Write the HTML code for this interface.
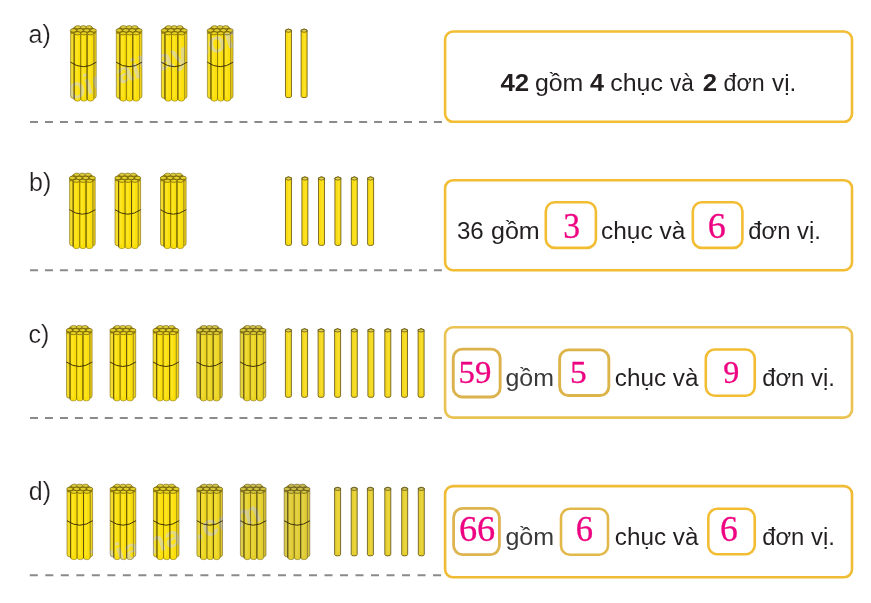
<!DOCTYPE html>
<html><head><meta charset="utf-8"><style>
html,body{margin:0;padding:0;background:#fff;width:871px;height:603px;overflow:hidden}
svg{display:block}
</style></head><body>
<svg width="871" height="603" viewBox="0 0 871 603">
<text x="28.6" y="43.2" style="font-family:'Liberation Sans',sans-serif;font-size:25px;font-weight:normal" fill="#231F20" stroke="#fff" stroke-width="0.2">a)</text>
<text x="29.0" y="190.8" style="font-family:'Liberation Sans',sans-serif;font-size:25px;font-weight:normal" fill="#231F20" stroke="#fff" stroke-width="0.2">b)</text>
<text x="28.6" y="342.5" style="font-family:'Liberation Sans',sans-serif;font-size:25px;font-weight:normal" fill="#231F20" stroke="#fff" stroke-width="0.2">c)</text>
<text x="28.8" y="500.3" style="font-family:'Liberation Sans',sans-serif;font-size:25px;font-weight:normal" fill="#231F20" stroke="#fff" stroke-width="0.2">d)</text>
<line x1="30" y1="122.0" x2="442" y2="122.0" stroke="#8A8A8A" stroke-width="2" stroke-dasharray="8 6.96"/>
<line x1="30" y1="270.3" x2="442" y2="270.3" stroke="#8A8A8A" stroke-width="2" stroke-dasharray="8 6.96"/>
<line x1="30" y1="418.0" x2="442" y2="418.0" stroke="#8A8A8A" stroke-width="2" stroke-dasharray="8 6.96"/>
<line x1="29.8" y1="575.3" x2="442" y2="575.3" stroke="#8A8A8A" stroke-width="2" stroke-dasharray="8 7.51"/>
<g transform="translate(70.2,25.2)">
<path d="M0.4 6 L0.4 70.5 Q0.4 73 2.4 73 L4.0 73 L4.0 6 Z" fill="#F3DC2A" stroke="#7A6A10" stroke-width="0.6"/>
<path d="M23.6 6 L23.6 73 L24.4 73 Q26.0 73 26.0 70.5 L26.0 6 Z" fill="#F0D21A" stroke="#7A6A10" stroke-width="0.6"/>
<path d="M4.0 7.5 L4.0 73.5 Q4.0 76 7.25 76 Q10.5 76 10.5 73.5 L10.5 7.5 Z" fill="#FADF0A" stroke="#7A6A10" stroke-width="0.5"/>
<rect x="5.3" y="10" width="2.4" height="62" fill="#FFEA30" opacity="0.6"/>
<path d="M10.5 7.5 L10.5 73.5 Q10.5 76 13.7 76 Q16.9 76 16.9 73.5 L16.9 7.5 Z" fill="#FADF0A" stroke="#7A6A10" stroke-width="0.5"/>
<rect x="11.8" y="10" width="2.4" height="62" fill="#FFEA30" opacity="0.6"/>
<path d="M16.9 7.5 L16.9 73.5 Q16.9 76 20.25 76 Q23.6 76 23.6 73.5 L23.6 7.5 Z" fill="#FADF0A" stroke="#7A6A10" stroke-width="0.5"/>
<rect x="18.2" y="10" width="2.4" height="62" fill="#FFEA30" opacity="0.6"/>
<line x1="4.0" y1="8" x2="4.0" y2="74.5" stroke="#4F3F00" stroke-width="0.8"/>
<line x1="10.5" y1="8" x2="10.5" y2="74.5" stroke="#9A8200" stroke-width="0.85"/>
<line x1="16.9" y1="8" x2="16.9" y2="74.5" stroke="#4F3F00" stroke-width="0.8"/>
<line x1="23.6" y1="8" x2="23.6" y2="74.5" stroke="#B09C20" stroke-width="0.8"/>
<path d="M4.5 1.2 L21.5 1.2 L25.6 5.0 L25.6 8.5 L0.4 8.5 L0.4 5.0 Z" fill="#958010"/>
<ellipse cx="7.6" cy="2.0" rx="3.0" ry="1.6" fill="#DCCB3A" stroke="#6A5A10" stroke-width="0.55"/>
<ellipse cx="13.2" cy="2.0" rx="3.0" ry="1.6" fill="#DCCB3A" stroke="#6A5A10" stroke-width="0.55"/>
<ellipse cx="18.8" cy="2.0" rx="3.0" ry="1.6" fill="#DCCB3A" stroke="#6A5A10" stroke-width="0.55"/>
<ellipse cx="3.3" cy="5.2" rx="3.1" ry="1.75" fill="#E2CE2A" stroke="#5A4A00" stroke-width="0.6"/>
<ellipse cx="9.9" cy="5.2" rx="3.1" ry="1.75" fill="#E2CE2A" stroke="#5A4A00" stroke-width="0.6"/>
<ellipse cx="16.5" cy="5.2" rx="3.1" ry="1.75" fill="#E2CE2A" stroke="#5A4A00" stroke-width="0.6"/>
<ellipse cx="23.1" cy="5.2" rx="3.1" ry="1.75" fill="#E2CE2A" stroke="#5A4A00" stroke-width="0.6"/>
<ellipse cx="7.25" cy="8.1" rx="3.2" ry="1.6" fill="#E8D222" stroke="#5A4A00" stroke-width="0.6"/>
<ellipse cx="13.7" cy="8.1" rx="3.2" ry="1.6" fill="#E8D222" stroke="#5A4A00" stroke-width="0.6"/>
<ellipse cx="20.25" cy="8.1" rx="3.2" ry="1.6" fill="#E8D222" stroke="#5A4A00" stroke-width="0.6"/>
<path d="M0.3 37.0 Q13.2 46.0 26.099999999999998 37.0" fill="none" stroke="#3A2C00" stroke-width="0.95"/>
</g>
<g transform="translate(115.9,25.2)">
<path d="M0.4 6 L0.4 70.5 Q0.4 73 2.4 73 L4.0 73 L4.0 6 Z" fill="#F3DC2A" stroke="#7A6A10" stroke-width="0.6"/>
<path d="M23.6 6 L23.6 73 L24.4 73 Q26.0 73 26.0 70.5 L26.0 6 Z" fill="#F0D21A" stroke="#7A6A10" stroke-width="0.6"/>
<path d="M4.0 7.5 L4.0 73.5 Q4.0 76 7.25 76 Q10.5 76 10.5 73.5 L10.5 7.5 Z" fill="#FADF0A" stroke="#7A6A10" stroke-width="0.5"/>
<rect x="5.3" y="10" width="2.4" height="62" fill="#FFEA30" opacity="0.6"/>
<path d="M10.5 7.5 L10.5 73.5 Q10.5 76 13.7 76 Q16.9 76 16.9 73.5 L16.9 7.5 Z" fill="#FADF0A" stroke="#7A6A10" stroke-width="0.5"/>
<rect x="11.8" y="10" width="2.4" height="62" fill="#FFEA30" opacity="0.6"/>
<path d="M16.9 7.5 L16.9 73.5 Q16.9 76 20.25 76 Q23.6 76 23.6 73.5 L23.6 7.5 Z" fill="#FADF0A" stroke="#7A6A10" stroke-width="0.5"/>
<rect x="18.2" y="10" width="2.4" height="62" fill="#FFEA30" opacity="0.6"/>
<line x1="4.0" y1="8" x2="4.0" y2="74.5" stroke="#4F3F00" stroke-width="0.8"/>
<line x1="10.5" y1="8" x2="10.5" y2="74.5" stroke="#9A8200" stroke-width="0.85"/>
<line x1="16.9" y1="8" x2="16.9" y2="74.5" stroke="#4F3F00" stroke-width="0.8"/>
<line x1="23.6" y1="8" x2="23.6" y2="74.5" stroke="#B09C20" stroke-width="0.8"/>
<path d="M4.5 1.2 L21.5 1.2 L25.6 5.0 L25.6 8.5 L0.4 8.5 L0.4 5.0 Z" fill="#958010"/>
<ellipse cx="7.6" cy="2.0" rx="3.0" ry="1.6" fill="#DCCB3A" stroke="#6A5A10" stroke-width="0.55"/>
<ellipse cx="13.2" cy="2.0" rx="3.0" ry="1.6" fill="#DCCB3A" stroke="#6A5A10" stroke-width="0.55"/>
<ellipse cx="18.8" cy="2.0" rx="3.0" ry="1.6" fill="#DCCB3A" stroke="#6A5A10" stroke-width="0.55"/>
<ellipse cx="3.3" cy="5.2" rx="3.1" ry="1.75" fill="#E2CE2A" stroke="#5A4A00" stroke-width="0.6"/>
<ellipse cx="9.9" cy="5.2" rx="3.1" ry="1.75" fill="#E2CE2A" stroke="#5A4A00" stroke-width="0.6"/>
<ellipse cx="16.5" cy="5.2" rx="3.1" ry="1.75" fill="#E2CE2A" stroke="#5A4A00" stroke-width="0.6"/>
<ellipse cx="23.1" cy="5.2" rx="3.1" ry="1.75" fill="#E2CE2A" stroke="#5A4A00" stroke-width="0.6"/>
<ellipse cx="7.25" cy="8.1" rx="3.2" ry="1.6" fill="#E8D222" stroke="#5A4A00" stroke-width="0.6"/>
<ellipse cx="13.7" cy="8.1" rx="3.2" ry="1.6" fill="#E8D222" stroke="#5A4A00" stroke-width="0.6"/>
<ellipse cx="20.25" cy="8.1" rx="3.2" ry="1.6" fill="#E8D222" stroke="#5A4A00" stroke-width="0.6"/>
<path d="M0.3 37.0 Q13.2 46.0 26.099999999999998 37.0" fill="none" stroke="#3A2C00" stroke-width="0.95"/>
</g>
<g transform="translate(161.0,25.2)">
<path d="M0.4 6 L0.4 70.5 Q0.4 73 2.4 73 L4.0 73 L4.0 6 Z" fill="#F3DC2A" stroke="#7A6A10" stroke-width="0.6"/>
<path d="M23.6 6 L23.6 73 L24.4 73 Q26.0 73 26.0 70.5 L26.0 6 Z" fill="#F0D21A" stroke="#7A6A10" stroke-width="0.6"/>
<path d="M4.0 7.5 L4.0 73.5 Q4.0 76 7.25 76 Q10.5 76 10.5 73.5 L10.5 7.5 Z" fill="#FADF0A" stroke="#7A6A10" stroke-width="0.5"/>
<rect x="5.3" y="10" width="2.4" height="62" fill="#FFEA30" opacity="0.6"/>
<path d="M10.5 7.5 L10.5 73.5 Q10.5 76 13.7 76 Q16.9 76 16.9 73.5 L16.9 7.5 Z" fill="#FADF0A" stroke="#7A6A10" stroke-width="0.5"/>
<rect x="11.8" y="10" width="2.4" height="62" fill="#FFEA30" opacity="0.6"/>
<path d="M16.9 7.5 L16.9 73.5 Q16.9 76 20.25 76 Q23.6 76 23.6 73.5 L23.6 7.5 Z" fill="#FADF0A" stroke="#7A6A10" stroke-width="0.5"/>
<rect x="18.2" y="10" width="2.4" height="62" fill="#FFEA30" opacity="0.6"/>
<line x1="4.0" y1="8" x2="4.0" y2="74.5" stroke="#4F3F00" stroke-width="0.8"/>
<line x1="10.5" y1="8" x2="10.5" y2="74.5" stroke="#9A8200" stroke-width="0.85"/>
<line x1="16.9" y1="8" x2="16.9" y2="74.5" stroke="#4F3F00" stroke-width="0.8"/>
<line x1="23.6" y1="8" x2="23.6" y2="74.5" stroke="#B09C20" stroke-width="0.8"/>
<path d="M4.5 1.2 L21.5 1.2 L25.6 5.0 L25.6 8.5 L0.4 8.5 L0.4 5.0 Z" fill="#958010"/>
<ellipse cx="7.6" cy="2.0" rx="3.0" ry="1.6" fill="#DCCB3A" stroke="#6A5A10" stroke-width="0.55"/>
<ellipse cx="13.2" cy="2.0" rx="3.0" ry="1.6" fill="#DCCB3A" stroke="#6A5A10" stroke-width="0.55"/>
<ellipse cx="18.8" cy="2.0" rx="3.0" ry="1.6" fill="#DCCB3A" stroke="#6A5A10" stroke-width="0.55"/>
<ellipse cx="3.3" cy="5.2" rx="3.1" ry="1.75" fill="#E2CE2A" stroke="#5A4A00" stroke-width="0.6"/>
<ellipse cx="9.9" cy="5.2" rx="3.1" ry="1.75" fill="#E2CE2A" stroke="#5A4A00" stroke-width="0.6"/>
<ellipse cx="16.5" cy="5.2" rx="3.1" ry="1.75" fill="#E2CE2A" stroke="#5A4A00" stroke-width="0.6"/>
<ellipse cx="23.1" cy="5.2" rx="3.1" ry="1.75" fill="#E2CE2A" stroke="#5A4A00" stroke-width="0.6"/>
<ellipse cx="7.25" cy="8.1" rx="3.2" ry="1.6" fill="#E8D222" stroke="#5A4A00" stroke-width="0.6"/>
<ellipse cx="13.7" cy="8.1" rx="3.2" ry="1.6" fill="#E8D222" stroke="#5A4A00" stroke-width="0.6"/>
<ellipse cx="20.25" cy="8.1" rx="3.2" ry="1.6" fill="#E8D222" stroke="#5A4A00" stroke-width="0.6"/>
<path d="M0.3 37.0 Q13.2 46.0 26.099999999999998 37.0" fill="none" stroke="#3A2C00" stroke-width="0.95"/>
</g>
<g transform="translate(207.0,25.2)">
<path d="M0.4 6 L0.4 70.5 Q0.4 73 2.4 73 L4.0 73 L4.0 6 Z" fill="#F3DC2A" stroke="#7A6A10" stroke-width="0.6"/>
<path d="M23.6 6 L23.6 73 L24.4 73 Q26.0 73 26.0 70.5 L26.0 6 Z" fill="#F0D21A" stroke="#7A6A10" stroke-width="0.6"/>
<path d="M4.0 7.5 L4.0 73.5 Q4.0 76 7.25 76 Q10.5 76 10.5 73.5 L10.5 7.5 Z" fill="#FADF0A" stroke="#7A6A10" stroke-width="0.5"/>
<rect x="5.3" y="10" width="2.4" height="62" fill="#FFEA30" opacity="0.6"/>
<path d="M10.5 7.5 L10.5 73.5 Q10.5 76 13.7 76 Q16.9 76 16.9 73.5 L16.9 7.5 Z" fill="#FADF0A" stroke="#7A6A10" stroke-width="0.5"/>
<rect x="11.8" y="10" width="2.4" height="62" fill="#FFEA30" opacity="0.6"/>
<path d="M16.9 7.5 L16.9 73.5 Q16.9 76 20.25 76 Q23.6 76 23.6 73.5 L23.6 7.5 Z" fill="#FADF0A" stroke="#7A6A10" stroke-width="0.5"/>
<rect x="18.2" y="10" width="2.4" height="62" fill="#FFEA30" opacity="0.6"/>
<line x1="4.0" y1="8" x2="4.0" y2="74.5" stroke="#4F3F00" stroke-width="0.8"/>
<line x1="10.5" y1="8" x2="10.5" y2="74.5" stroke="#9A8200" stroke-width="0.85"/>
<line x1="16.9" y1="8" x2="16.9" y2="74.5" stroke="#4F3F00" stroke-width="0.8"/>
<line x1="23.6" y1="8" x2="23.6" y2="74.5" stroke="#B09C20" stroke-width="0.8"/>
<path d="M4.5 1.2 L21.5 1.2 L25.6 5.0 L25.6 8.5 L0.4 8.5 L0.4 5.0 Z" fill="#958010"/>
<ellipse cx="7.6" cy="2.0" rx="3.0" ry="1.6" fill="#DCCB3A" stroke="#6A5A10" stroke-width="0.55"/>
<ellipse cx="13.2" cy="2.0" rx="3.0" ry="1.6" fill="#DCCB3A" stroke="#6A5A10" stroke-width="0.55"/>
<ellipse cx="18.8" cy="2.0" rx="3.0" ry="1.6" fill="#DCCB3A" stroke="#6A5A10" stroke-width="0.55"/>
<ellipse cx="3.3" cy="5.2" rx="3.1" ry="1.75" fill="#E2CE2A" stroke="#5A4A00" stroke-width="0.6"/>
<ellipse cx="9.9" cy="5.2" rx="3.1" ry="1.75" fill="#E2CE2A" stroke="#5A4A00" stroke-width="0.6"/>
<ellipse cx="16.5" cy="5.2" rx="3.1" ry="1.75" fill="#E2CE2A" stroke="#5A4A00" stroke-width="0.6"/>
<ellipse cx="23.1" cy="5.2" rx="3.1" ry="1.75" fill="#E2CE2A" stroke="#5A4A00" stroke-width="0.6"/>
<ellipse cx="7.25" cy="8.1" rx="3.2" ry="1.6" fill="#E8D222" stroke="#5A4A00" stroke-width="0.6"/>
<ellipse cx="13.7" cy="8.1" rx="3.2" ry="1.6" fill="#E8D222" stroke="#5A4A00" stroke-width="0.6"/>
<ellipse cx="20.25" cy="8.1" rx="3.2" ry="1.6" fill="#E8D222" stroke="#5A4A00" stroke-width="0.6"/>
<path d="M0.3 37.0 Q13.2 46.0 26.099999999999998 37.0" fill="none" stroke="#3A2C00" stroke-width="0.95"/>
</g>
<g transform="translate(285.0,28.2)"><path d="M0.5 1.8 L0.5 68 Q0.5 69.5 3.5 69.5 Q6.5 69.5 6.5 68 L6.5 1.8 Q3.5 -0.3 0.5 1.8 Z" fill="#F9DC14" stroke="#5A4A08" stroke-width="0.75"/><rect x="3.1" y="5" width="1.8" height="61" fill="#FFE836" opacity="0.6"/><path d="M0.6 2.0 Q3.5 0 6.4 2.0 L6.4 3.4 Q3.5 4.8 0.6 3.4 Z" fill="#E2D050" stroke="#4A3C00" stroke-width="0.6"/></g>
<g transform="translate(300.6,28.2)"><path d="M0.5 1.8 L0.5 68 Q0.5 69.5 3.5 69.5 Q6.5 69.5 6.5 68 L6.5 1.8 Q3.5 -0.3 0.5 1.8 Z" fill="#F9DC14" stroke="#5A4A08" stroke-width="0.75"/><rect x="3.1" y="5" width="1.8" height="61" fill="#FFE836" opacity="0.6"/><path d="M0.6 2.0 Q3.5 0 6.4 2.0 L6.4 3.4 Q3.5 4.8 0.6 3.4 Z" fill="#E2D050" stroke="#4A3C00" stroke-width="0.6"/></g>
<g transform="translate(69.2,172.7)">
<path d="M0.4 6 L0.4 70.5 Q0.4 73 2.4 73 L4.0 73 L4.0 6 Z" fill="#F3DC2A" stroke="#7A6A10" stroke-width="0.6"/>
<path d="M23.6 6 L23.6 73 L24.4 73 Q26.0 73 26.0 70.5 L26.0 6 Z" fill="#F0D21A" stroke="#7A6A10" stroke-width="0.6"/>
<path d="M4.0 7.5 L4.0 73.5 Q4.0 76 7.25 76 Q10.5 76 10.5 73.5 L10.5 7.5 Z" fill="#FADF0A" stroke="#7A6A10" stroke-width="0.5"/>
<rect x="5.3" y="10" width="2.4" height="62" fill="#FFEA30" opacity="0.6"/>
<path d="M10.5 7.5 L10.5 73.5 Q10.5 76 13.7 76 Q16.9 76 16.9 73.5 L16.9 7.5 Z" fill="#FADF0A" stroke="#7A6A10" stroke-width="0.5"/>
<rect x="11.8" y="10" width="2.4" height="62" fill="#FFEA30" opacity="0.6"/>
<path d="M16.9 7.5 L16.9 73.5 Q16.9 76 20.25 76 Q23.6 76 23.6 73.5 L23.6 7.5 Z" fill="#FADF0A" stroke="#7A6A10" stroke-width="0.5"/>
<rect x="18.2" y="10" width="2.4" height="62" fill="#FFEA30" opacity="0.6"/>
<line x1="4.0" y1="8" x2="4.0" y2="74.5" stroke="#4F3F00" stroke-width="0.8"/>
<line x1="10.5" y1="8" x2="10.5" y2="74.5" stroke="#9A8200" stroke-width="0.85"/>
<line x1="16.9" y1="8" x2="16.9" y2="74.5" stroke="#4F3F00" stroke-width="0.8"/>
<line x1="23.6" y1="8" x2="23.6" y2="74.5" stroke="#B09C20" stroke-width="0.8"/>
<path d="M4.5 1.2 L21.5 1.2 L25.6 5.0 L25.6 8.5 L0.4 8.5 L0.4 5.0 Z" fill="#958010"/>
<ellipse cx="7.6" cy="2.0" rx="3.0" ry="1.6" fill="#DCCB3A" stroke="#6A5A10" stroke-width="0.55"/>
<ellipse cx="13.2" cy="2.0" rx="3.0" ry="1.6" fill="#DCCB3A" stroke="#6A5A10" stroke-width="0.55"/>
<ellipse cx="18.8" cy="2.0" rx="3.0" ry="1.6" fill="#DCCB3A" stroke="#6A5A10" stroke-width="0.55"/>
<ellipse cx="3.3" cy="5.2" rx="3.1" ry="1.75" fill="#E2CE2A" stroke="#5A4A00" stroke-width="0.6"/>
<ellipse cx="9.9" cy="5.2" rx="3.1" ry="1.75" fill="#E2CE2A" stroke="#5A4A00" stroke-width="0.6"/>
<ellipse cx="16.5" cy="5.2" rx="3.1" ry="1.75" fill="#E2CE2A" stroke="#5A4A00" stroke-width="0.6"/>
<ellipse cx="23.1" cy="5.2" rx="3.1" ry="1.75" fill="#E2CE2A" stroke="#5A4A00" stroke-width="0.6"/>
<ellipse cx="7.25" cy="8.1" rx="3.2" ry="1.6" fill="#E8D222" stroke="#5A4A00" stroke-width="0.6"/>
<ellipse cx="13.7" cy="8.1" rx="3.2" ry="1.6" fill="#E8D222" stroke="#5A4A00" stroke-width="0.6"/>
<ellipse cx="20.25" cy="8.1" rx="3.2" ry="1.6" fill="#E8D222" stroke="#5A4A00" stroke-width="0.6"/>
<path d="M0.3 37.0 Q13.2 46.0 26.099999999999998 37.0" fill="none" stroke="#3A2C00" stroke-width="0.95"/>
</g>
<g transform="translate(114.6,172.7)">
<path d="M0.4 6 L0.4 70.5 Q0.4 73 2.4 73 L4.0 73 L4.0 6 Z" fill="#F3DC2A" stroke="#7A6A10" stroke-width="0.6"/>
<path d="M23.6 6 L23.6 73 L24.4 73 Q26.0 73 26.0 70.5 L26.0 6 Z" fill="#F0D21A" stroke="#7A6A10" stroke-width="0.6"/>
<path d="M4.0 7.5 L4.0 73.5 Q4.0 76 7.25 76 Q10.5 76 10.5 73.5 L10.5 7.5 Z" fill="#FADF0A" stroke="#7A6A10" stroke-width="0.5"/>
<rect x="5.3" y="10" width="2.4" height="62" fill="#FFEA30" opacity="0.6"/>
<path d="M10.5 7.5 L10.5 73.5 Q10.5 76 13.7 76 Q16.9 76 16.9 73.5 L16.9 7.5 Z" fill="#FADF0A" stroke="#7A6A10" stroke-width="0.5"/>
<rect x="11.8" y="10" width="2.4" height="62" fill="#FFEA30" opacity="0.6"/>
<path d="M16.9 7.5 L16.9 73.5 Q16.9 76 20.25 76 Q23.6 76 23.6 73.5 L23.6 7.5 Z" fill="#FADF0A" stroke="#7A6A10" stroke-width="0.5"/>
<rect x="18.2" y="10" width="2.4" height="62" fill="#FFEA30" opacity="0.6"/>
<line x1="4.0" y1="8" x2="4.0" y2="74.5" stroke="#4F3F00" stroke-width="0.8"/>
<line x1="10.5" y1="8" x2="10.5" y2="74.5" stroke="#9A8200" stroke-width="0.85"/>
<line x1="16.9" y1="8" x2="16.9" y2="74.5" stroke="#4F3F00" stroke-width="0.8"/>
<line x1="23.6" y1="8" x2="23.6" y2="74.5" stroke="#B09C20" stroke-width="0.8"/>
<path d="M4.5 1.2 L21.5 1.2 L25.6 5.0 L25.6 8.5 L0.4 8.5 L0.4 5.0 Z" fill="#958010"/>
<ellipse cx="7.6" cy="2.0" rx="3.0" ry="1.6" fill="#DCCB3A" stroke="#6A5A10" stroke-width="0.55"/>
<ellipse cx="13.2" cy="2.0" rx="3.0" ry="1.6" fill="#DCCB3A" stroke="#6A5A10" stroke-width="0.55"/>
<ellipse cx="18.8" cy="2.0" rx="3.0" ry="1.6" fill="#DCCB3A" stroke="#6A5A10" stroke-width="0.55"/>
<ellipse cx="3.3" cy="5.2" rx="3.1" ry="1.75" fill="#E2CE2A" stroke="#5A4A00" stroke-width="0.6"/>
<ellipse cx="9.9" cy="5.2" rx="3.1" ry="1.75" fill="#E2CE2A" stroke="#5A4A00" stroke-width="0.6"/>
<ellipse cx="16.5" cy="5.2" rx="3.1" ry="1.75" fill="#E2CE2A" stroke="#5A4A00" stroke-width="0.6"/>
<ellipse cx="23.1" cy="5.2" rx="3.1" ry="1.75" fill="#E2CE2A" stroke="#5A4A00" stroke-width="0.6"/>
<ellipse cx="7.25" cy="8.1" rx="3.2" ry="1.6" fill="#E8D222" stroke="#5A4A00" stroke-width="0.6"/>
<ellipse cx="13.7" cy="8.1" rx="3.2" ry="1.6" fill="#E8D222" stroke="#5A4A00" stroke-width="0.6"/>
<ellipse cx="20.25" cy="8.1" rx="3.2" ry="1.6" fill="#E8D222" stroke="#5A4A00" stroke-width="0.6"/>
<path d="M0.3 37.0 Q13.2 46.0 26.099999999999998 37.0" fill="none" stroke="#3A2C00" stroke-width="0.95"/>
</g>
<g transform="translate(160.1,172.7)">
<path d="M0.4 6 L0.4 70.5 Q0.4 73 2.4 73 L4.0 73 L4.0 6 Z" fill="#F3DC2A" stroke="#7A6A10" stroke-width="0.6"/>
<path d="M23.6 6 L23.6 73 L24.4 73 Q26.0 73 26.0 70.5 L26.0 6 Z" fill="#F0D21A" stroke="#7A6A10" stroke-width="0.6"/>
<path d="M4.0 7.5 L4.0 73.5 Q4.0 76 7.25 76 Q10.5 76 10.5 73.5 L10.5 7.5 Z" fill="#FADF0A" stroke="#7A6A10" stroke-width="0.5"/>
<rect x="5.3" y="10" width="2.4" height="62" fill="#FFEA30" opacity="0.6"/>
<path d="M10.5 7.5 L10.5 73.5 Q10.5 76 13.7 76 Q16.9 76 16.9 73.5 L16.9 7.5 Z" fill="#FADF0A" stroke="#7A6A10" stroke-width="0.5"/>
<rect x="11.8" y="10" width="2.4" height="62" fill="#FFEA30" opacity="0.6"/>
<path d="M16.9 7.5 L16.9 73.5 Q16.9 76 20.25 76 Q23.6 76 23.6 73.5 L23.6 7.5 Z" fill="#FADF0A" stroke="#7A6A10" stroke-width="0.5"/>
<rect x="18.2" y="10" width="2.4" height="62" fill="#FFEA30" opacity="0.6"/>
<line x1="4.0" y1="8" x2="4.0" y2="74.5" stroke="#4F3F00" stroke-width="0.8"/>
<line x1="10.5" y1="8" x2="10.5" y2="74.5" stroke="#9A8200" stroke-width="0.85"/>
<line x1="16.9" y1="8" x2="16.9" y2="74.5" stroke="#4F3F00" stroke-width="0.8"/>
<line x1="23.6" y1="8" x2="23.6" y2="74.5" stroke="#B09C20" stroke-width="0.8"/>
<path d="M4.5 1.2 L21.5 1.2 L25.6 5.0 L25.6 8.5 L0.4 8.5 L0.4 5.0 Z" fill="#958010"/>
<ellipse cx="7.6" cy="2.0" rx="3.0" ry="1.6" fill="#DCCB3A" stroke="#6A5A10" stroke-width="0.55"/>
<ellipse cx="13.2" cy="2.0" rx="3.0" ry="1.6" fill="#DCCB3A" stroke="#6A5A10" stroke-width="0.55"/>
<ellipse cx="18.8" cy="2.0" rx="3.0" ry="1.6" fill="#DCCB3A" stroke="#6A5A10" stroke-width="0.55"/>
<ellipse cx="3.3" cy="5.2" rx="3.1" ry="1.75" fill="#E2CE2A" stroke="#5A4A00" stroke-width="0.6"/>
<ellipse cx="9.9" cy="5.2" rx="3.1" ry="1.75" fill="#E2CE2A" stroke="#5A4A00" stroke-width="0.6"/>
<ellipse cx="16.5" cy="5.2" rx="3.1" ry="1.75" fill="#E2CE2A" stroke="#5A4A00" stroke-width="0.6"/>
<ellipse cx="23.1" cy="5.2" rx="3.1" ry="1.75" fill="#E2CE2A" stroke="#5A4A00" stroke-width="0.6"/>
<ellipse cx="7.25" cy="8.1" rx="3.2" ry="1.6" fill="#E8D222" stroke="#5A4A00" stroke-width="0.6"/>
<ellipse cx="13.7" cy="8.1" rx="3.2" ry="1.6" fill="#E8D222" stroke="#5A4A00" stroke-width="0.6"/>
<ellipse cx="20.25" cy="8.1" rx="3.2" ry="1.6" fill="#E8D222" stroke="#5A4A00" stroke-width="0.6"/>
<path d="M0.3 37.0 Q13.2 46.0 26.099999999999998 37.0" fill="none" stroke="#3A2C00" stroke-width="0.95"/>
</g>
<g transform="translate(285.0,176.0)"><path d="M0.5 1.8 L0.5 68 Q0.5 69.5 3.5 69.5 Q6.5 69.5 6.5 68 L6.5 1.8 Q3.5 -0.3 0.5 1.8 Z" fill="#F9DC14" stroke="#5A4A08" stroke-width="0.75"/><rect x="3.1" y="5" width="1.8" height="61" fill="#FFE836" opacity="0.6"/><path d="M0.6 2.0 Q3.5 0 6.4 2.0 L6.4 3.4 Q3.5 4.8 0.6 3.4 Z" fill="#E2D050" stroke="#4A3C00" stroke-width="0.6"/></g>
<g transform="translate(301.4,176.0)"><path d="M0.5 1.8 L0.5 68 Q0.5 69.5 3.5 69.5 Q6.5 69.5 6.5 68 L6.5 1.8 Q3.5 -0.3 0.5 1.8 Z" fill="#F9DC14" stroke="#5A4A08" stroke-width="0.75"/><rect x="3.1" y="5" width="1.8" height="61" fill="#FFE836" opacity="0.6"/><path d="M0.6 2.0 Q3.5 0 6.4 2.0 L6.4 3.4 Q3.5 4.8 0.6 3.4 Z" fill="#E2D050" stroke="#4A3C00" stroke-width="0.6"/></g>
<g transform="translate(318.0,176.0)"><path d="M0.5 1.8 L0.5 68 Q0.5 69.5 3.5 69.5 Q6.5 69.5 6.5 68 L6.5 1.8 Q3.5 -0.3 0.5 1.8 Z" fill="#F9DC14" stroke="#5A4A08" stroke-width="0.75"/><rect x="3.1" y="5" width="1.8" height="61" fill="#FFE836" opacity="0.6"/><path d="M0.6 2.0 Q3.5 0 6.4 2.0 L6.4 3.4 Q3.5 4.8 0.6 3.4 Z" fill="#E2D050" stroke="#4A3C00" stroke-width="0.6"/></g>
<g transform="translate(334.4,176.0)"><path d="M0.5 1.8 L0.5 68 Q0.5 69.5 3.5 69.5 Q6.5 69.5 6.5 68 L6.5 1.8 Q3.5 -0.3 0.5 1.8 Z" fill="#F9DC14" stroke="#5A4A08" stroke-width="0.75"/><rect x="3.1" y="5" width="1.8" height="61" fill="#FFE836" opacity="0.6"/><path d="M0.6 2.0 Q3.5 0 6.4 2.0 L6.4 3.4 Q3.5 4.8 0.6 3.4 Z" fill="#E2D050" stroke="#4A3C00" stroke-width="0.6"/></g>
<g transform="translate(350.8,176.0)"><path d="M0.5 1.8 L0.5 68 Q0.5 69.5 3.5 69.5 Q6.5 69.5 6.5 68 L6.5 1.8 Q3.5 -0.3 0.5 1.8 Z" fill="#F9DC14" stroke="#5A4A08" stroke-width="0.75"/><rect x="3.1" y="5" width="1.8" height="61" fill="#FFE836" opacity="0.6"/><path d="M0.6 2.0 Q3.5 0 6.4 2.0 L6.4 3.4 Q3.5 4.8 0.6 3.4 Z" fill="#E2D050" stroke="#4A3C00" stroke-width="0.6"/></g>
<g transform="translate(367.1,176.0)"><path d="M0.5 1.8 L0.5 68 Q0.5 69.5 3.5 69.5 Q6.5 69.5 6.5 68 L6.5 1.8 Q3.5 -0.3 0.5 1.8 Z" fill="#F9DC14" stroke="#5A4A08" stroke-width="0.75"/><rect x="3.1" y="5" width="1.8" height="61" fill="#FFE836" opacity="0.6"/><path d="M0.6 2.0 Q3.5 0 6.4 2.0 L6.4 3.4 Q3.5 4.8 0.6 3.4 Z" fill="#E2D050" stroke="#4A3C00" stroke-width="0.6"/></g>
<g transform="translate(66.1,325.0)">
<path d="M0.4 6 L0.4 70.5 Q0.4 73 2.4 73 L4.0 73 L4.0 6 Z" fill="#F3DC2A" stroke="#7A6A10" stroke-width="0.6"/>
<path d="M23.6 6 L23.6 73 L24.4 73 Q26.0 73 26.0 70.5 L26.0 6 Z" fill="#F0D21A" stroke="#7A6A10" stroke-width="0.6"/>
<path d="M4.0 7.5 L4.0 73.5 Q4.0 76 7.25 76 Q10.5 76 10.5 73.5 L10.5 7.5 Z" fill="#FADF0A" stroke="#7A6A10" stroke-width="0.5"/>
<rect x="5.3" y="10" width="2.4" height="62" fill="#FFEA30" opacity="0.6"/>
<path d="M10.5 7.5 L10.5 73.5 Q10.5 76 13.7 76 Q16.9 76 16.9 73.5 L16.9 7.5 Z" fill="#FADF0A" stroke="#7A6A10" stroke-width="0.5"/>
<rect x="11.8" y="10" width="2.4" height="62" fill="#FFEA30" opacity="0.6"/>
<path d="M16.9 7.5 L16.9 73.5 Q16.9 76 20.25 76 Q23.6 76 23.6 73.5 L23.6 7.5 Z" fill="#FADF0A" stroke="#7A6A10" stroke-width="0.5"/>
<rect x="18.2" y="10" width="2.4" height="62" fill="#FFEA30" opacity="0.6"/>
<line x1="4.0" y1="8" x2="4.0" y2="74.5" stroke="#4F3F00" stroke-width="0.8"/>
<line x1="10.5" y1="8" x2="10.5" y2="74.5" stroke="#9A8200" stroke-width="0.85"/>
<line x1="16.9" y1="8" x2="16.9" y2="74.5" stroke="#4F3F00" stroke-width="0.8"/>
<line x1="23.6" y1="8" x2="23.6" y2="74.5" stroke="#B09C20" stroke-width="0.8"/>
<path d="M4.5 1.2 L21.5 1.2 L25.6 5.0 L25.6 8.5 L0.4 8.5 L0.4 5.0 Z" fill="#958010"/>
<ellipse cx="7.6" cy="2.0" rx="3.0" ry="1.6" fill="#DCCB3A" stroke="#6A5A10" stroke-width="0.55"/>
<ellipse cx="13.2" cy="2.0" rx="3.0" ry="1.6" fill="#DCCB3A" stroke="#6A5A10" stroke-width="0.55"/>
<ellipse cx="18.8" cy="2.0" rx="3.0" ry="1.6" fill="#DCCB3A" stroke="#6A5A10" stroke-width="0.55"/>
<ellipse cx="3.3" cy="5.2" rx="3.1" ry="1.75" fill="#E2CE2A" stroke="#5A4A00" stroke-width="0.6"/>
<ellipse cx="9.9" cy="5.2" rx="3.1" ry="1.75" fill="#E2CE2A" stroke="#5A4A00" stroke-width="0.6"/>
<ellipse cx="16.5" cy="5.2" rx="3.1" ry="1.75" fill="#E2CE2A" stroke="#5A4A00" stroke-width="0.6"/>
<ellipse cx="23.1" cy="5.2" rx="3.1" ry="1.75" fill="#E2CE2A" stroke="#5A4A00" stroke-width="0.6"/>
<ellipse cx="7.25" cy="8.1" rx="3.2" ry="1.6" fill="#E8D222" stroke="#5A4A00" stroke-width="0.6"/>
<ellipse cx="13.7" cy="8.1" rx="3.2" ry="1.6" fill="#E8D222" stroke="#5A4A00" stroke-width="0.6"/>
<ellipse cx="20.25" cy="8.1" rx="3.2" ry="1.6" fill="#E8D222" stroke="#5A4A00" stroke-width="0.6"/>
<path d="M0.3 37.0 Q13.2 46.0 26.099999999999998 37.0" fill="none" stroke="#3A2C00" stroke-width="0.95"/>
</g>
<g transform="translate(109.7,325.0)">
<path d="M0.4 6 L0.4 70.5 Q0.4 73 2.4 73 L4.0 73 L4.0 6 Z" fill="#F3DC2A" stroke="#7A6A10" stroke-width="0.6"/>
<path d="M23.6 6 L23.6 73 L24.4 73 Q26.0 73 26.0 70.5 L26.0 6 Z" fill="#F0D21A" stroke="#7A6A10" stroke-width="0.6"/>
<path d="M4.0 7.5 L4.0 73.5 Q4.0 76 7.25 76 Q10.5 76 10.5 73.5 L10.5 7.5 Z" fill="#FADF0A" stroke="#7A6A10" stroke-width="0.5"/>
<rect x="5.3" y="10" width="2.4" height="62" fill="#FFEA30" opacity="0.6"/>
<path d="M10.5 7.5 L10.5 73.5 Q10.5 76 13.7 76 Q16.9 76 16.9 73.5 L16.9 7.5 Z" fill="#FADF0A" stroke="#7A6A10" stroke-width="0.5"/>
<rect x="11.8" y="10" width="2.4" height="62" fill="#FFEA30" opacity="0.6"/>
<path d="M16.9 7.5 L16.9 73.5 Q16.9 76 20.25 76 Q23.6 76 23.6 73.5 L23.6 7.5 Z" fill="#FADF0A" stroke="#7A6A10" stroke-width="0.5"/>
<rect x="18.2" y="10" width="2.4" height="62" fill="#FFEA30" opacity="0.6"/>
<line x1="4.0" y1="8" x2="4.0" y2="74.5" stroke="#4F3F00" stroke-width="0.8"/>
<line x1="10.5" y1="8" x2="10.5" y2="74.5" stroke="#9A8200" stroke-width="0.85"/>
<line x1="16.9" y1="8" x2="16.9" y2="74.5" stroke="#4F3F00" stroke-width="0.8"/>
<line x1="23.6" y1="8" x2="23.6" y2="74.5" stroke="#B09C20" stroke-width="0.8"/>
<path d="M4.5 1.2 L21.5 1.2 L25.6 5.0 L25.6 8.5 L0.4 8.5 L0.4 5.0 Z" fill="#958010"/>
<ellipse cx="7.6" cy="2.0" rx="3.0" ry="1.6" fill="#DCCB3A" stroke="#6A5A10" stroke-width="0.55"/>
<ellipse cx="13.2" cy="2.0" rx="3.0" ry="1.6" fill="#DCCB3A" stroke="#6A5A10" stroke-width="0.55"/>
<ellipse cx="18.8" cy="2.0" rx="3.0" ry="1.6" fill="#DCCB3A" stroke="#6A5A10" stroke-width="0.55"/>
<ellipse cx="3.3" cy="5.2" rx="3.1" ry="1.75" fill="#E2CE2A" stroke="#5A4A00" stroke-width="0.6"/>
<ellipse cx="9.9" cy="5.2" rx="3.1" ry="1.75" fill="#E2CE2A" stroke="#5A4A00" stroke-width="0.6"/>
<ellipse cx="16.5" cy="5.2" rx="3.1" ry="1.75" fill="#E2CE2A" stroke="#5A4A00" stroke-width="0.6"/>
<ellipse cx="23.1" cy="5.2" rx="3.1" ry="1.75" fill="#E2CE2A" stroke="#5A4A00" stroke-width="0.6"/>
<ellipse cx="7.25" cy="8.1" rx="3.2" ry="1.6" fill="#E8D222" stroke="#5A4A00" stroke-width="0.6"/>
<ellipse cx="13.7" cy="8.1" rx="3.2" ry="1.6" fill="#E8D222" stroke="#5A4A00" stroke-width="0.6"/>
<ellipse cx="20.25" cy="8.1" rx="3.2" ry="1.6" fill="#E8D222" stroke="#5A4A00" stroke-width="0.6"/>
<path d="M0.3 37.0 Q13.2 46.0 26.099999999999998 37.0" fill="none" stroke="#3A2C00" stroke-width="0.95"/>
</g>
<g transform="translate(152.7,325.0)">
<path d="M0.4 6 L0.4 70.5 Q0.4 73 2.4 73 L4.0 73 L4.0 6 Z" fill="#F3DC2A" stroke="#7A6A10" stroke-width="0.6"/>
<path d="M23.6 6 L23.6 73 L24.4 73 Q26.0 73 26.0 70.5 L26.0 6 Z" fill="#F0D21A" stroke="#7A6A10" stroke-width="0.6"/>
<path d="M4.0 7.5 L4.0 73.5 Q4.0 76 7.25 76 Q10.5 76 10.5 73.5 L10.5 7.5 Z" fill="#FADF0A" stroke="#7A6A10" stroke-width="0.5"/>
<rect x="5.3" y="10" width="2.4" height="62" fill="#FFEA30" opacity="0.6"/>
<path d="M10.5 7.5 L10.5 73.5 Q10.5 76 13.7 76 Q16.9 76 16.9 73.5 L16.9 7.5 Z" fill="#FADF0A" stroke="#7A6A10" stroke-width="0.5"/>
<rect x="11.8" y="10" width="2.4" height="62" fill="#FFEA30" opacity="0.6"/>
<path d="M16.9 7.5 L16.9 73.5 Q16.9 76 20.25 76 Q23.6 76 23.6 73.5 L23.6 7.5 Z" fill="#FADF0A" stroke="#7A6A10" stroke-width="0.5"/>
<rect x="18.2" y="10" width="2.4" height="62" fill="#FFEA30" opacity="0.6"/>
<line x1="4.0" y1="8" x2="4.0" y2="74.5" stroke="#4F3F00" stroke-width="0.8"/>
<line x1="10.5" y1="8" x2="10.5" y2="74.5" stroke="#9A8200" stroke-width="0.85"/>
<line x1="16.9" y1="8" x2="16.9" y2="74.5" stroke="#4F3F00" stroke-width="0.8"/>
<line x1="23.6" y1="8" x2="23.6" y2="74.5" stroke="#B09C20" stroke-width="0.8"/>
<path d="M4.5 1.2 L21.5 1.2 L25.6 5.0 L25.6 8.5 L0.4 8.5 L0.4 5.0 Z" fill="#958010"/>
<ellipse cx="7.6" cy="2.0" rx="3.0" ry="1.6" fill="#DCCB3A" stroke="#6A5A10" stroke-width="0.55"/>
<ellipse cx="13.2" cy="2.0" rx="3.0" ry="1.6" fill="#DCCB3A" stroke="#6A5A10" stroke-width="0.55"/>
<ellipse cx="18.8" cy="2.0" rx="3.0" ry="1.6" fill="#DCCB3A" stroke="#6A5A10" stroke-width="0.55"/>
<ellipse cx="3.3" cy="5.2" rx="3.1" ry="1.75" fill="#E2CE2A" stroke="#5A4A00" stroke-width="0.6"/>
<ellipse cx="9.9" cy="5.2" rx="3.1" ry="1.75" fill="#E2CE2A" stroke="#5A4A00" stroke-width="0.6"/>
<ellipse cx="16.5" cy="5.2" rx="3.1" ry="1.75" fill="#E2CE2A" stroke="#5A4A00" stroke-width="0.6"/>
<ellipse cx="23.1" cy="5.2" rx="3.1" ry="1.75" fill="#E2CE2A" stroke="#5A4A00" stroke-width="0.6"/>
<ellipse cx="7.25" cy="8.1" rx="3.2" ry="1.6" fill="#E8D222" stroke="#5A4A00" stroke-width="0.6"/>
<ellipse cx="13.7" cy="8.1" rx="3.2" ry="1.6" fill="#E8D222" stroke="#5A4A00" stroke-width="0.6"/>
<ellipse cx="20.25" cy="8.1" rx="3.2" ry="1.6" fill="#E8D222" stroke="#5A4A00" stroke-width="0.6"/>
<path d="M0.3 37.0 Q13.2 46.0 26.099999999999998 37.0" fill="none" stroke="#3A2C00" stroke-width="0.95"/>
</g>
<g transform="translate(196.3,325.0)" style="filter:saturate(0.88) brightness(0.961)">
<path d="M0.4 6 L0.4 70.5 Q0.4 73 2.4 73 L4.0 73 L4.0 6 Z" fill="#F3DC2A" stroke="#7A6A10" stroke-width="0.6"/>
<path d="M23.6 6 L23.6 73 L24.4 73 Q26.0 73 26.0 70.5 L26.0 6 Z" fill="#F0D21A" stroke="#7A6A10" stroke-width="0.6"/>
<path d="M4.0 7.5 L4.0 73.5 Q4.0 76 7.25 76 Q10.5 76 10.5 73.5 L10.5 7.5 Z" fill="#FADF0A" stroke="#7A6A10" stroke-width="0.5"/>
<rect x="5.3" y="10" width="2.4" height="62" fill="#FFEA30" opacity="0.6"/>
<path d="M10.5 7.5 L10.5 73.5 Q10.5 76 13.7 76 Q16.9 76 16.9 73.5 L16.9 7.5 Z" fill="#FADF0A" stroke="#7A6A10" stroke-width="0.5"/>
<rect x="11.8" y="10" width="2.4" height="62" fill="#FFEA30" opacity="0.6"/>
<path d="M16.9 7.5 L16.9 73.5 Q16.9 76 20.25 76 Q23.6 76 23.6 73.5 L23.6 7.5 Z" fill="#FADF0A" stroke="#7A6A10" stroke-width="0.5"/>
<rect x="18.2" y="10" width="2.4" height="62" fill="#FFEA30" opacity="0.6"/>
<line x1="4.0" y1="8" x2="4.0" y2="74.5" stroke="#4F3F00" stroke-width="0.8"/>
<line x1="10.5" y1="8" x2="10.5" y2="74.5" stroke="#9A8200" stroke-width="0.85"/>
<line x1="16.9" y1="8" x2="16.9" y2="74.5" stroke="#4F3F00" stroke-width="0.8"/>
<line x1="23.6" y1="8" x2="23.6" y2="74.5" stroke="#B09C20" stroke-width="0.8"/>
<path d="M4.5 1.2 L21.5 1.2 L25.6 5.0 L25.6 8.5 L0.4 8.5 L0.4 5.0 Z" fill="#958010"/>
<ellipse cx="7.6" cy="2.0" rx="3.0" ry="1.6" fill="#DCCB3A" stroke="#6A5A10" stroke-width="0.55"/>
<ellipse cx="13.2" cy="2.0" rx="3.0" ry="1.6" fill="#DCCB3A" stroke="#6A5A10" stroke-width="0.55"/>
<ellipse cx="18.8" cy="2.0" rx="3.0" ry="1.6" fill="#DCCB3A" stroke="#6A5A10" stroke-width="0.55"/>
<ellipse cx="3.3" cy="5.2" rx="3.1" ry="1.75" fill="#E2CE2A" stroke="#5A4A00" stroke-width="0.6"/>
<ellipse cx="9.9" cy="5.2" rx="3.1" ry="1.75" fill="#E2CE2A" stroke="#5A4A00" stroke-width="0.6"/>
<ellipse cx="16.5" cy="5.2" rx="3.1" ry="1.75" fill="#E2CE2A" stroke="#5A4A00" stroke-width="0.6"/>
<ellipse cx="23.1" cy="5.2" rx="3.1" ry="1.75" fill="#E2CE2A" stroke="#5A4A00" stroke-width="0.6"/>
<ellipse cx="7.25" cy="8.1" rx="3.2" ry="1.6" fill="#E8D222" stroke="#5A4A00" stroke-width="0.6"/>
<ellipse cx="13.7" cy="8.1" rx="3.2" ry="1.6" fill="#E8D222" stroke="#5A4A00" stroke-width="0.6"/>
<ellipse cx="20.25" cy="8.1" rx="3.2" ry="1.6" fill="#E8D222" stroke="#5A4A00" stroke-width="0.6"/>
<path d="M0.3 37.0 Q13.2 46.0 26.099999999999998 37.0" fill="none" stroke="#3A2C00" stroke-width="0.95"/>
</g>
<g transform="translate(239.8,325.0)" style="filter:saturate(0.88) brightness(0.961)">
<path d="M0.4 6 L0.4 70.5 Q0.4 73 2.4 73 L4.0 73 L4.0 6 Z" fill="#F3DC2A" stroke="#7A6A10" stroke-width="0.6"/>
<path d="M23.6 6 L23.6 73 L24.4 73 Q26.0 73 26.0 70.5 L26.0 6 Z" fill="#F0D21A" stroke="#7A6A10" stroke-width="0.6"/>
<path d="M4.0 7.5 L4.0 73.5 Q4.0 76 7.25 76 Q10.5 76 10.5 73.5 L10.5 7.5 Z" fill="#FADF0A" stroke="#7A6A10" stroke-width="0.5"/>
<rect x="5.3" y="10" width="2.4" height="62" fill="#FFEA30" opacity="0.6"/>
<path d="M10.5 7.5 L10.5 73.5 Q10.5 76 13.7 76 Q16.9 76 16.9 73.5 L16.9 7.5 Z" fill="#FADF0A" stroke="#7A6A10" stroke-width="0.5"/>
<rect x="11.8" y="10" width="2.4" height="62" fill="#FFEA30" opacity="0.6"/>
<path d="M16.9 7.5 L16.9 73.5 Q16.9 76 20.25 76 Q23.6 76 23.6 73.5 L23.6 7.5 Z" fill="#FADF0A" stroke="#7A6A10" stroke-width="0.5"/>
<rect x="18.2" y="10" width="2.4" height="62" fill="#FFEA30" opacity="0.6"/>
<line x1="4.0" y1="8" x2="4.0" y2="74.5" stroke="#4F3F00" stroke-width="0.8"/>
<line x1="10.5" y1="8" x2="10.5" y2="74.5" stroke="#9A8200" stroke-width="0.85"/>
<line x1="16.9" y1="8" x2="16.9" y2="74.5" stroke="#4F3F00" stroke-width="0.8"/>
<line x1="23.6" y1="8" x2="23.6" y2="74.5" stroke="#B09C20" stroke-width="0.8"/>
<path d="M4.5 1.2 L21.5 1.2 L25.6 5.0 L25.6 8.5 L0.4 8.5 L0.4 5.0 Z" fill="#958010"/>
<ellipse cx="7.6" cy="2.0" rx="3.0" ry="1.6" fill="#DCCB3A" stroke="#6A5A10" stroke-width="0.55"/>
<ellipse cx="13.2" cy="2.0" rx="3.0" ry="1.6" fill="#DCCB3A" stroke="#6A5A10" stroke-width="0.55"/>
<ellipse cx="18.8" cy="2.0" rx="3.0" ry="1.6" fill="#DCCB3A" stroke="#6A5A10" stroke-width="0.55"/>
<ellipse cx="3.3" cy="5.2" rx="3.1" ry="1.75" fill="#E2CE2A" stroke="#5A4A00" stroke-width="0.6"/>
<ellipse cx="9.9" cy="5.2" rx="3.1" ry="1.75" fill="#E2CE2A" stroke="#5A4A00" stroke-width="0.6"/>
<ellipse cx="16.5" cy="5.2" rx="3.1" ry="1.75" fill="#E2CE2A" stroke="#5A4A00" stroke-width="0.6"/>
<ellipse cx="23.1" cy="5.2" rx="3.1" ry="1.75" fill="#E2CE2A" stroke="#5A4A00" stroke-width="0.6"/>
<ellipse cx="7.25" cy="8.1" rx="3.2" ry="1.6" fill="#E8D222" stroke="#5A4A00" stroke-width="0.6"/>
<ellipse cx="13.7" cy="8.1" rx="3.2" ry="1.6" fill="#E8D222" stroke="#5A4A00" stroke-width="0.6"/>
<ellipse cx="20.25" cy="8.1" rx="3.2" ry="1.6" fill="#E8D222" stroke="#5A4A00" stroke-width="0.6"/>
<path d="M0.3 37.0 Q13.2 46.0 26.099999999999998 37.0" fill="none" stroke="#3A2C00" stroke-width="0.95"/>
</g>
<g transform="translate(284.9,327.9)" style="filter:saturate(0.95) brightness(0.982)"><path d="M0.5 1.8 L0.5 68 Q0.5 69.5 3.5 69.5 Q6.5 69.5 6.5 68 L6.5 1.8 Q3.5 -0.3 0.5 1.8 Z" fill="#F9DC14" stroke="#5A4A08" stroke-width="0.75"/><rect x="3.1" y="5" width="1.8" height="61" fill="#FFE836" opacity="0.6"/><path d="M0.6 2.0 Q3.5 0 6.4 2.0 L6.4 3.4 Q3.5 4.8 0.6 3.4 Z" fill="#E2D050" stroke="#4A3C00" stroke-width="0.6"/></g>
<g transform="translate(301.1,327.9)" style="filter:saturate(0.95) brightness(0.982)"><path d="M0.5 1.8 L0.5 68 Q0.5 69.5 3.5 69.5 Q6.5 69.5 6.5 68 L6.5 1.8 Q3.5 -0.3 0.5 1.8 Z" fill="#F9DC14" stroke="#5A4A08" stroke-width="0.75"/><rect x="3.1" y="5" width="1.8" height="61" fill="#FFE836" opacity="0.6"/><path d="M0.6 2.0 Q3.5 0 6.4 2.0 L6.4 3.4 Q3.5 4.8 0.6 3.4 Z" fill="#E2D050" stroke="#4A3C00" stroke-width="0.6"/></g>
<g transform="translate(317.6,327.9)" style="filter:saturate(0.95) brightness(0.982)"><path d="M0.5 1.8 L0.5 68 Q0.5 69.5 3.5 69.5 Q6.5 69.5 6.5 68 L6.5 1.8 Q3.5 -0.3 0.5 1.8 Z" fill="#F9DC14" stroke="#5A4A08" stroke-width="0.75"/><rect x="3.1" y="5" width="1.8" height="61" fill="#FFE836" opacity="0.6"/><path d="M0.6 2.0 Q3.5 0 6.4 2.0 L6.4 3.4 Q3.5 4.8 0.6 3.4 Z" fill="#E2D050" stroke="#4A3C00" stroke-width="0.6"/></g>
<g transform="translate(334.1,327.9)" style="filter:saturate(0.95) brightness(0.982)"><path d="M0.5 1.8 L0.5 68 Q0.5 69.5 3.5 69.5 Q6.5 69.5 6.5 68 L6.5 1.8 Q3.5 -0.3 0.5 1.8 Z" fill="#F9DC14" stroke="#5A4A08" stroke-width="0.75"/><rect x="3.1" y="5" width="1.8" height="61" fill="#FFE836" opacity="0.6"/><path d="M0.6 2.0 Q3.5 0 6.4 2.0 L6.4 3.4 Q3.5 4.8 0.6 3.4 Z" fill="#E2D050" stroke="#4A3C00" stroke-width="0.6"/></g>
<g transform="translate(350.8,327.9)" style="filter:saturate(0.95) brightness(0.982)"><path d="M0.5 1.8 L0.5 68 Q0.5 69.5 3.5 69.5 Q6.5 69.5 6.5 68 L6.5 1.8 Q3.5 -0.3 0.5 1.8 Z" fill="#F9DC14" stroke="#5A4A08" stroke-width="0.75"/><rect x="3.1" y="5" width="1.8" height="61" fill="#FFE836" opacity="0.6"/><path d="M0.6 2.0 Q3.5 0 6.4 2.0 L6.4 3.4 Q3.5 4.8 0.6 3.4 Z" fill="#E2D050" stroke="#4A3C00" stroke-width="0.6"/></g>
<g transform="translate(367.4,327.9)" style="filter:saturate(0.95) brightness(0.982)"><path d="M0.5 1.8 L0.5 68 Q0.5 69.5 3.5 69.5 Q6.5 69.5 6.5 68 L6.5 1.8 Q3.5 -0.3 0.5 1.8 Z" fill="#F9DC14" stroke="#5A4A08" stroke-width="0.75"/><rect x="3.1" y="5" width="1.8" height="61" fill="#FFE836" opacity="0.6"/><path d="M0.6 2.0 Q3.5 0 6.4 2.0 L6.4 3.4 Q3.5 4.8 0.6 3.4 Z" fill="#E2D050" stroke="#4A3C00" stroke-width="0.6"/></g>
<g transform="translate(384.3,327.9)" style="filter:saturate(0.95) brightness(0.982)"><path d="M0.5 1.8 L0.5 68 Q0.5 69.5 3.5 69.5 Q6.5 69.5 6.5 68 L6.5 1.8 Q3.5 -0.3 0.5 1.8 Z" fill="#F9DC14" stroke="#5A4A08" stroke-width="0.75"/><rect x="3.1" y="5" width="1.8" height="61" fill="#FFE836" opacity="0.6"/><path d="M0.6 2.0 Q3.5 0 6.4 2.0 L6.4 3.4 Q3.5 4.8 0.6 3.4 Z" fill="#E2D050" stroke="#4A3C00" stroke-width="0.6"/></g>
<g transform="translate(401.0,327.9)" style="filter:saturate(0.95) brightness(0.982)"><path d="M0.5 1.8 L0.5 68 Q0.5 69.5 3.5 69.5 Q6.5 69.5 6.5 68 L6.5 1.8 Q3.5 -0.3 0.5 1.8 Z" fill="#F9DC14" stroke="#5A4A08" stroke-width="0.75"/><rect x="3.1" y="5" width="1.8" height="61" fill="#FFE836" opacity="0.6"/><path d="M0.6 2.0 Q3.5 0 6.4 2.0 L6.4 3.4 Q3.5 4.8 0.6 3.4 Z" fill="#E2D050" stroke="#4A3C00" stroke-width="0.6"/></g>
<g transform="translate(417.6,327.9)" style="filter:saturate(0.95) brightness(0.982)"><path d="M0.5 1.8 L0.5 68 Q0.5 69.5 3.5 69.5 Q6.5 69.5 6.5 68 L6.5 1.8 Q3.5 -0.3 0.5 1.8 Z" fill="#F9DC14" stroke="#5A4A08" stroke-width="0.75"/><rect x="3.1" y="5" width="1.8" height="61" fill="#FFE836" opacity="0.6"/><path d="M0.6 2.0 Q3.5 0 6.4 2.0 L6.4 3.4 Q3.5 4.8 0.6 3.4 Z" fill="#E2D050" stroke="#4A3C00" stroke-width="0.6"/></g>
<g transform="translate(66.6,483.7)">
<path d="M0.4 6 L0.4 70.5 Q0.4 73 2.4 73 L4.0 73 L4.0 6 Z" fill="#F3DC2A" stroke="#7A6A10" stroke-width="0.6"/>
<path d="M23.6 6 L23.6 73 L24.4 73 Q26.0 73 26.0 70.5 L26.0 6 Z" fill="#F0D21A" stroke="#7A6A10" stroke-width="0.6"/>
<path d="M4.0 7.5 L4.0 73.5 Q4.0 76 7.25 76 Q10.5 76 10.5 73.5 L10.5 7.5 Z" fill="#FADF0A" stroke="#7A6A10" stroke-width="0.5"/>
<rect x="5.3" y="10" width="2.4" height="62" fill="#FFEA30" opacity="0.6"/>
<path d="M10.5 7.5 L10.5 73.5 Q10.5 76 13.7 76 Q16.9 76 16.9 73.5 L16.9 7.5 Z" fill="#FADF0A" stroke="#7A6A10" stroke-width="0.5"/>
<rect x="11.8" y="10" width="2.4" height="62" fill="#FFEA30" opacity="0.6"/>
<path d="M16.9 7.5 L16.9 73.5 Q16.9 76 20.25 76 Q23.6 76 23.6 73.5 L23.6 7.5 Z" fill="#FADF0A" stroke="#7A6A10" stroke-width="0.5"/>
<rect x="18.2" y="10" width="2.4" height="62" fill="#FFEA30" opacity="0.6"/>
<line x1="4.0" y1="8" x2="4.0" y2="74.5" stroke="#4F3F00" stroke-width="0.8"/>
<line x1="10.5" y1="8" x2="10.5" y2="74.5" stroke="#9A8200" stroke-width="0.85"/>
<line x1="16.9" y1="8" x2="16.9" y2="74.5" stroke="#4F3F00" stroke-width="0.8"/>
<line x1="23.6" y1="8" x2="23.6" y2="74.5" stroke="#B09C20" stroke-width="0.8"/>
<path d="M4.5 1.2 L21.5 1.2 L25.6 5.0 L25.6 8.5 L0.4 8.5 L0.4 5.0 Z" fill="#958010"/>
<ellipse cx="7.6" cy="2.0" rx="3.0" ry="1.6" fill="#DCCB3A" stroke="#6A5A10" stroke-width="0.55"/>
<ellipse cx="13.2" cy="2.0" rx="3.0" ry="1.6" fill="#DCCB3A" stroke="#6A5A10" stroke-width="0.55"/>
<ellipse cx="18.8" cy="2.0" rx="3.0" ry="1.6" fill="#DCCB3A" stroke="#6A5A10" stroke-width="0.55"/>
<ellipse cx="3.3" cy="5.2" rx="3.1" ry="1.75" fill="#E2CE2A" stroke="#5A4A00" stroke-width="0.6"/>
<ellipse cx="9.9" cy="5.2" rx="3.1" ry="1.75" fill="#E2CE2A" stroke="#5A4A00" stroke-width="0.6"/>
<ellipse cx="16.5" cy="5.2" rx="3.1" ry="1.75" fill="#E2CE2A" stroke="#5A4A00" stroke-width="0.6"/>
<ellipse cx="23.1" cy="5.2" rx="3.1" ry="1.75" fill="#E2CE2A" stroke="#5A4A00" stroke-width="0.6"/>
<ellipse cx="7.25" cy="8.1" rx="3.2" ry="1.6" fill="#E8D222" stroke="#5A4A00" stroke-width="0.6"/>
<ellipse cx="13.7" cy="8.1" rx="3.2" ry="1.6" fill="#E8D222" stroke="#5A4A00" stroke-width="0.6"/>
<ellipse cx="20.25" cy="8.1" rx="3.2" ry="1.6" fill="#E8D222" stroke="#5A4A00" stroke-width="0.6"/>
<path d="M0.3 37.0 Q13.2 46.0 26.099999999999998 37.0" fill="none" stroke="#3A2C00" stroke-width="0.95"/>
</g>
<g transform="translate(109.8,483.7)">
<path d="M0.4 6 L0.4 70.5 Q0.4 73 2.4 73 L4.0 73 L4.0 6 Z" fill="#F3DC2A" stroke="#7A6A10" stroke-width="0.6"/>
<path d="M23.6 6 L23.6 73 L24.4 73 Q26.0 73 26.0 70.5 L26.0 6 Z" fill="#F0D21A" stroke="#7A6A10" stroke-width="0.6"/>
<path d="M4.0 7.5 L4.0 73.5 Q4.0 76 7.25 76 Q10.5 76 10.5 73.5 L10.5 7.5 Z" fill="#FADF0A" stroke="#7A6A10" stroke-width="0.5"/>
<rect x="5.3" y="10" width="2.4" height="62" fill="#FFEA30" opacity="0.6"/>
<path d="M10.5 7.5 L10.5 73.5 Q10.5 76 13.7 76 Q16.9 76 16.9 73.5 L16.9 7.5 Z" fill="#FADF0A" stroke="#7A6A10" stroke-width="0.5"/>
<rect x="11.8" y="10" width="2.4" height="62" fill="#FFEA30" opacity="0.6"/>
<path d="M16.9 7.5 L16.9 73.5 Q16.9 76 20.25 76 Q23.6 76 23.6 73.5 L23.6 7.5 Z" fill="#FADF0A" stroke="#7A6A10" stroke-width="0.5"/>
<rect x="18.2" y="10" width="2.4" height="62" fill="#FFEA30" opacity="0.6"/>
<line x1="4.0" y1="8" x2="4.0" y2="74.5" stroke="#4F3F00" stroke-width="0.8"/>
<line x1="10.5" y1="8" x2="10.5" y2="74.5" stroke="#9A8200" stroke-width="0.85"/>
<line x1="16.9" y1="8" x2="16.9" y2="74.5" stroke="#4F3F00" stroke-width="0.8"/>
<line x1="23.6" y1="8" x2="23.6" y2="74.5" stroke="#B09C20" stroke-width="0.8"/>
<path d="M4.5 1.2 L21.5 1.2 L25.6 5.0 L25.6 8.5 L0.4 8.5 L0.4 5.0 Z" fill="#958010"/>
<ellipse cx="7.6" cy="2.0" rx="3.0" ry="1.6" fill="#DCCB3A" stroke="#6A5A10" stroke-width="0.55"/>
<ellipse cx="13.2" cy="2.0" rx="3.0" ry="1.6" fill="#DCCB3A" stroke="#6A5A10" stroke-width="0.55"/>
<ellipse cx="18.8" cy="2.0" rx="3.0" ry="1.6" fill="#DCCB3A" stroke="#6A5A10" stroke-width="0.55"/>
<ellipse cx="3.3" cy="5.2" rx="3.1" ry="1.75" fill="#E2CE2A" stroke="#5A4A00" stroke-width="0.6"/>
<ellipse cx="9.9" cy="5.2" rx="3.1" ry="1.75" fill="#E2CE2A" stroke="#5A4A00" stroke-width="0.6"/>
<ellipse cx="16.5" cy="5.2" rx="3.1" ry="1.75" fill="#E2CE2A" stroke="#5A4A00" stroke-width="0.6"/>
<ellipse cx="23.1" cy="5.2" rx="3.1" ry="1.75" fill="#E2CE2A" stroke="#5A4A00" stroke-width="0.6"/>
<ellipse cx="7.25" cy="8.1" rx="3.2" ry="1.6" fill="#E8D222" stroke="#5A4A00" stroke-width="0.6"/>
<ellipse cx="13.7" cy="8.1" rx="3.2" ry="1.6" fill="#E8D222" stroke="#5A4A00" stroke-width="0.6"/>
<ellipse cx="20.25" cy="8.1" rx="3.2" ry="1.6" fill="#E8D222" stroke="#5A4A00" stroke-width="0.6"/>
<path d="M0.3 37.0 Q13.2 46.0 26.099999999999998 37.0" fill="none" stroke="#3A2C00" stroke-width="0.95"/>
</g>
<g transform="translate(153.0,483.7)">
<path d="M0.4 6 L0.4 70.5 Q0.4 73 2.4 73 L4.0 73 L4.0 6 Z" fill="#F3DC2A" stroke="#7A6A10" stroke-width="0.6"/>
<path d="M23.6 6 L23.6 73 L24.4 73 Q26.0 73 26.0 70.5 L26.0 6 Z" fill="#F0D21A" stroke="#7A6A10" stroke-width="0.6"/>
<path d="M4.0 7.5 L4.0 73.5 Q4.0 76 7.25 76 Q10.5 76 10.5 73.5 L10.5 7.5 Z" fill="#FADF0A" stroke="#7A6A10" stroke-width="0.5"/>
<rect x="5.3" y="10" width="2.4" height="62" fill="#FFEA30" opacity="0.6"/>
<path d="M10.5 7.5 L10.5 73.5 Q10.5 76 13.7 76 Q16.9 76 16.9 73.5 L16.9 7.5 Z" fill="#FADF0A" stroke="#7A6A10" stroke-width="0.5"/>
<rect x="11.8" y="10" width="2.4" height="62" fill="#FFEA30" opacity="0.6"/>
<path d="M16.9 7.5 L16.9 73.5 Q16.9 76 20.25 76 Q23.6 76 23.6 73.5 L23.6 7.5 Z" fill="#FADF0A" stroke="#7A6A10" stroke-width="0.5"/>
<rect x="18.2" y="10" width="2.4" height="62" fill="#FFEA30" opacity="0.6"/>
<line x1="4.0" y1="8" x2="4.0" y2="74.5" stroke="#4F3F00" stroke-width="0.8"/>
<line x1="10.5" y1="8" x2="10.5" y2="74.5" stroke="#9A8200" stroke-width="0.85"/>
<line x1="16.9" y1="8" x2="16.9" y2="74.5" stroke="#4F3F00" stroke-width="0.8"/>
<line x1="23.6" y1="8" x2="23.6" y2="74.5" stroke="#B09C20" stroke-width="0.8"/>
<path d="M4.5 1.2 L21.5 1.2 L25.6 5.0 L25.6 8.5 L0.4 8.5 L0.4 5.0 Z" fill="#958010"/>
<ellipse cx="7.6" cy="2.0" rx="3.0" ry="1.6" fill="#DCCB3A" stroke="#6A5A10" stroke-width="0.55"/>
<ellipse cx="13.2" cy="2.0" rx="3.0" ry="1.6" fill="#DCCB3A" stroke="#6A5A10" stroke-width="0.55"/>
<ellipse cx="18.8" cy="2.0" rx="3.0" ry="1.6" fill="#DCCB3A" stroke="#6A5A10" stroke-width="0.55"/>
<ellipse cx="3.3" cy="5.2" rx="3.1" ry="1.75" fill="#E2CE2A" stroke="#5A4A00" stroke-width="0.6"/>
<ellipse cx="9.9" cy="5.2" rx="3.1" ry="1.75" fill="#E2CE2A" stroke="#5A4A00" stroke-width="0.6"/>
<ellipse cx="16.5" cy="5.2" rx="3.1" ry="1.75" fill="#E2CE2A" stroke="#5A4A00" stroke-width="0.6"/>
<ellipse cx="23.1" cy="5.2" rx="3.1" ry="1.75" fill="#E2CE2A" stroke="#5A4A00" stroke-width="0.6"/>
<ellipse cx="7.25" cy="8.1" rx="3.2" ry="1.6" fill="#E8D222" stroke="#5A4A00" stroke-width="0.6"/>
<ellipse cx="13.7" cy="8.1" rx="3.2" ry="1.6" fill="#E8D222" stroke="#5A4A00" stroke-width="0.6"/>
<ellipse cx="20.25" cy="8.1" rx="3.2" ry="1.6" fill="#E8D222" stroke="#5A4A00" stroke-width="0.6"/>
<path d="M0.3 37.0 Q13.2 46.0 26.099999999999998 37.0" fill="none" stroke="#3A2C00" stroke-width="0.95"/>
</g>
<g transform="translate(196.5,483.7)" style="filter:saturate(0.89) brightness(0.964)">
<path d="M0.4 6 L0.4 70.5 Q0.4 73 2.4 73 L4.0 73 L4.0 6 Z" fill="#F3DC2A" stroke="#7A6A10" stroke-width="0.6"/>
<path d="M23.6 6 L23.6 73 L24.4 73 Q26.0 73 26.0 70.5 L26.0 6 Z" fill="#F0D21A" stroke="#7A6A10" stroke-width="0.6"/>
<path d="M4.0 7.5 L4.0 73.5 Q4.0 76 7.25 76 Q10.5 76 10.5 73.5 L10.5 7.5 Z" fill="#FADF0A" stroke="#7A6A10" stroke-width="0.5"/>
<rect x="5.3" y="10" width="2.4" height="62" fill="#FFEA30" opacity="0.6"/>
<path d="M10.5 7.5 L10.5 73.5 Q10.5 76 13.7 76 Q16.9 76 16.9 73.5 L16.9 7.5 Z" fill="#FADF0A" stroke="#7A6A10" stroke-width="0.5"/>
<rect x="11.8" y="10" width="2.4" height="62" fill="#FFEA30" opacity="0.6"/>
<path d="M16.9 7.5 L16.9 73.5 Q16.9 76 20.25 76 Q23.6 76 23.6 73.5 L23.6 7.5 Z" fill="#FADF0A" stroke="#7A6A10" stroke-width="0.5"/>
<rect x="18.2" y="10" width="2.4" height="62" fill="#FFEA30" opacity="0.6"/>
<line x1="4.0" y1="8" x2="4.0" y2="74.5" stroke="#4F3F00" stroke-width="0.8"/>
<line x1="10.5" y1="8" x2="10.5" y2="74.5" stroke="#9A8200" stroke-width="0.85"/>
<line x1="16.9" y1="8" x2="16.9" y2="74.5" stroke="#4F3F00" stroke-width="0.8"/>
<line x1="23.6" y1="8" x2="23.6" y2="74.5" stroke="#B09C20" stroke-width="0.8"/>
<path d="M4.5 1.2 L21.5 1.2 L25.6 5.0 L25.6 8.5 L0.4 8.5 L0.4 5.0 Z" fill="#958010"/>
<ellipse cx="7.6" cy="2.0" rx="3.0" ry="1.6" fill="#DCCB3A" stroke="#6A5A10" stroke-width="0.55"/>
<ellipse cx="13.2" cy="2.0" rx="3.0" ry="1.6" fill="#DCCB3A" stroke="#6A5A10" stroke-width="0.55"/>
<ellipse cx="18.8" cy="2.0" rx="3.0" ry="1.6" fill="#DCCB3A" stroke="#6A5A10" stroke-width="0.55"/>
<ellipse cx="3.3" cy="5.2" rx="3.1" ry="1.75" fill="#E2CE2A" stroke="#5A4A00" stroke-width="0.6"/>
<ellipse cx="9.9" cy="5.2" rx="3.1" ry="1.75" fill="#E2CE2A" stroke="#5A4A00" stroke-width="0.6"/>
<ellipse cx="16.5" cy="5.2" rx="3.1" ry="1.75" fill="#E2CE2A" stroke="#5A4A00" stroke-width="0.6"/>
<ellipse cx="23.1" cy="5.2" rx="3.1" ry="1.75" fill="#E2CE2A" stroke="#5A4A00" stroke-width="0.6"/>
<ellipse cx="7.25" cy="8.1" rx="3.2" ry="1.6" fill="#E8D222" stroke="#5A4A00" stroke-width="0.6"/>
<ellipse cx="13.7" cy="8.1" rx="3.2" ry="1.6" fill="#E8D222" stroke="#5A4A00" stroke-width="0.6"/>
<ellipse cx="20.25" cy="8.1" rx="3.2" ry="1.6" fill="#E8D222" stroke="#5A4A00" stroke-width="0.6"/>
<path d="M0.3 37.0 Q13.2 46.0 26.099999999999998 37.0" fill="none" stroke="#3A2C00" stroke-width="0.95"/>
</g>
<g transform="translate(240.0,483.7)" style="filter:saturate(0.82) brightness(0.940)">
<path d="M0.4 6 L0.4 70.5 Q0.4 73 2.4 73 L4.0 73 L4.0 6 Z" fill="#F3DC2A" stroke="#7A6A10" stroke-width="0.6"/>
<path d="M23.6 6 L23.6 73 L24.4 73 Q26.0 73 26.0 70.5 L26.0 6 Z" fill="#F0D21A" stroke="#7A6A10" stroke-width="0.6"/>
<path d="M4.0 7.5 L4.0 73.5 Q4.0 76 7.25 76 Q10.5 76 10.5 73.5 L10.5 7.5 Z" fill="#FADF0A" stroke="#7A6A10" stroke-width="0.5"/>
<rect x="5.3" y="10" width="2.4" height="62" fill="#FFEA30" opacity="0.6"/>
<path d="M10.5 7.5 L10.5 73.5 Q10.5 76 13.7 76 Q16.9 76 16.9 73.5 L16.9 7.5 Z" fill="#FADF0A" stroke="#7A6A10" stroke-width="0.5"/>
<rect x="11.8" y="10" width="2.4" height="62" fill="#FFEA30" opacity="0.6"/>
<path d="M16.9 7.5 L16.9 73.5 Q16.9 76 20.25 76 Q23.6 76 23.6 73.5 L23.6 7.5 Z" fill="#FADF0A" stroke="#7A6A10" stroke-width="0.5"/>
<rect x="18.2" y="10" width="2.4" height="62" fill="#FFEA30" opacity="0.6"/>
<line x1="4.0" y1="8" x2="4.0" y2="74.5" stroke="#4F3F00" stroke-width="0.8"/>
<line x1="10.5" y1="8" x2="10.5" y2="74.5" stroke="#9A8200" stroke-width="0.85"/>
<line x1="16.9" y1="8" x2="16.9" y2="74.5" stroke="#4F3F00" stroke-width="0.8"/>
<line x1="23.6" y1="8" x2="23.6" y2="74.5" stroke="#B09C20" stroke-width="0.8"/>
<path d="M4.5 1.2 L21.5 1.2 L25.6 5.0 L25.6 8.5 L0.4 8.5 L0.4 5.0 Z" fill="#958010"/>
<ellipse cx="7.6" cy="2.0" rx="3.0" ry="1.6" fill="#DCCB3A" stroke="#6A5A10" stroke-width="0.55"/>
<ellipse cx="13.2" cy="2.0" rx="3.0" ry="1.6" fill="#DCCB3A" stroke="#6A5A10" stroke-width="0.55"/>
<ellipse cx="18.8" cy="2.0" rx="3.0" ry="1.6" fill="#DCCB3A" stroke="#6A5A10" stroke-width="0.55"/>
<ellipse cx="3.3" cy="5.2" rx="3.1" ry="1.75" fill="#E2CE2A" stroke="#5A4A00" stroke-width="0.6"/>
<ellipse cx="9.9" cy="5.2" rx="3.1" ry="1.75" fill="#E2CE2A" stroke="#5A4A00" stroke-width="0.6"/>
<ellipse cx="16.5" cy="5.2" rx="3.1" ry="1.75" fill="#E2CE2A" stroke="#5A4A00" stroke-width="0.6"/>
<ellipse cx="23.1" cy="5.2" rx="3.1" ry="1.75" fill="#E2CE2A" stroke="#5A4A00" stroke-width="0.6"/>
<ellipse cx="7.25" cy="8.1" rx="3.2" ry="1.6" fill="#E8D222" stroke="#5A4A00" stroke-width="0.6"/>
<ellipse cx="13.7" cy="8.1" rx="3.2" ry="1.6" fill="#E8D222" stroke="#5A4A00" stroke-width="0.6"/>
<ellipse cx="20.25" cy="8.1" rx="3.2" ry="1.6" fill="#E8D222" stroke="#5A4A00" stroke-width="0.6"/>
<path d="M0.3 37.0 Q13.2 46.0 26.099999999999998 37.0" fill="none" stroke="#3A2C00" stroke-width="0.95"/>
</g>
<g transform="translate(283.8,483.7)" style="filter:saturate(0.78) brightness(0.925)">
<path d="M0.4 6 L0.4 70.5 Q0.4 73 2.4 73 L4.0 73 L4.0 6 Z" fill="#F3DC2A" stroke="#7A6A10" stroke-width="0.6"/>
<path d="M23.6 6 L23.6 73 L24.4 73 Q26.0 73 26.0 70.5 L26.0 6 Z" fill="#F0D21A" stroke="#7A6A10" stroke-width="0.6"/>
<path d="M4.0 7.5 L4.0 73.5 Q4.0 76 7.25 76 Q10.5 76 10.5 73.5 L10.5 7.5 Z" fill="#FADF0A" stroke="#7A6A10" stroke-width="0.5"/>
<rect x="5.3" y="10" width="2.4" height="62" fill="#FFEA30" opacity="0.6"/>
<path d="M10.5 7.5 L10.5 73.5 Q10.5 76 13.7 76 Q16.9 76 16.9 73.5 L16.9 7.5 Z" fill="#FADF0A" stroke="#7A6A10" stroke-width="0.5"/>
<rect x="11.8" y="10" width="2.4" height="62" fill="#FFEA30" opacity="0.6"/>
<path d="M16.9 7.5 L16.9 73.5 Q16.9 76 20.25 76 Q23.6 76 23.6 73.5 L23.6 7.5 Z" fill="#FADF0A" stroke="#7A6A10" stroke-width="0.5"/>
<rect x="18.2" y="10" width="2.4" height="62" fill="#FFEA30" opacity="0.6"/>
<line x1="4.0" y1="8" x2="4.0" y2="74.5" stroke="#4F3F00" stroke-width="0.8"/>
<line x1="10.5" y1="8" x2="10.5" y2="74.5" stroke="#9A8200" stroke-width="0.85"/>
<line x1="16.9" y1="8" x2="16.9" y2="74.5" stroke="#4F3F00" stroke-width="0.8"/>
<line x1="23.6" y1="8" x2="23.6" y2="74.5" stroke="#B09C20" stroke-width="0.8"/>
<path d="M4.5 1.2 L21.5 1.2 L25.6 5.0 L25.6 8.5 L0.4 8.5 L0.4 5.0 Z" fill="#958010"/>
<ellipse cx="7.6" cy="2.0" rx="3.0" ry="1.6" fill="#DCCB3A" stroke="#6A5A10" stroke-width="0.55"/>
<ellipse cx="13.2" cy="2.0" rx="3.0" ry="1.6" fill="#DCCB3A" stroke="#6A5A10" stroke-width="0.55"/>
<ellipse cx="18.8" cy="2.0" rx="3.0" ry="1.6" fill="#DCCB3A" stroke="#6A5A10" stroke-width="0.55"/>
<ellipse cx="3.3" cy="5.2" rx="3.1" ry="1.75" fill="#E2CE2A" stroke="#5A4A00" stroke-width="0.6"/>
<ellipse cx="9.9" cy="5.2" rx="3.1" ry="1.75" fill="#E2CE2A" stroke="#5A4A00" stroke-width="0.6"/>
<ellipse cx="16.5" cy="5.2" rx="3.1" ry="1.75" fill="#E2CE2A" stroke="#5A4A00" stroke-width="0.6"/>
<ellipse cx="23.1" cy="5.2" rx="3.1" ry="1.75" fill="#E2CE2A" stroke="#5A4A00" stroke-width="0.6"/>
<ellipse cx="7.25" cy="8.1" rx="3.2" ry="1.6" fill="#E8D222" stroke="#5A4A00" stroke-width="0.6"/>
<ellipse cx="13.7" cy="8.1" rx="3.2" ry="1.6" fill="#E8D222" stroke="#5A4A00" stroke-width="0.6"/>
<ellipse cx="20.25" cy="8.1" rx="3.2" ry="1.6" fill="#E8D222" stroke="#5A4A00" stroke-width="0.6"/>
<path d="M0.3 37.0 Q13.2 46.0 26.099999999999998 37.0" fill="none" stroke="#3A2C00" stroke-width="0.95"/>
</g>
<g transform="translate(334.1,486.4)" style="filter:saturate(0.84) brightness(0.946)"><path d="M0.5 1.8 L0.5 68 Q0.5 69.5 3.5 69.5 Q6.5 69.5 6.5 68 L6.5 1.8 Q3.5 -0.3 0.5 1.8 Z" fill="#F9DC14" stroke="#5A4A08" stroke-width="0.75"/><rect x="3.1" y="5" width="1.8" height="61" fill="#FFE836" opacity="0.6"/><path d="M0.6 2.0 Q3.5 0 6.4 2.0 L6.4 3.4 Q3.5 4.8 0.6 3.4 Z" fill="#E2D050" stroke="#4A3C00" stroke-width="0.6"/></g>
<g transform="translate(350.7,486.4)" style="filter:saturate(0.84) brightness(0.946)"><path d="M0.5 1.8 L0.5 68 Q0.5 69.5 3.5 69.5 Q6.5 69.5 6.5 68 L6.5 1.8 Q3.5 -0.3 0.5 1.8 Z" fill="#F9DC14" stroke="#5A4A08" stroke-width="0.75"/><rect x="3.1" y="5" width="1.8" height="61" fill="#FFE836" opacity="0.6"/><path d="M0.6 2.0 Q3.5 0 6.4 2.0 L6.4 3.4 Q3.5 4.8 0.6 3.4 Z" fill="#E2D050" stroke="#4A3C00" stroke-width="0.6"/></g>
<g transform="translate(366.9,486.4)" style="filter:saturate(0.84) brightness(0.946)"><path d="M0.5 1.8 L0.5 68 Q0.5 69.5 3.5 69.5 Q6.5 69.5 6.5 68 L6.5 1.8 Q3.5 -0.3 0.5 1.8 Z" fill="#F9DC14" stroke="#5A4A08" stroke-width="0.75"/><rect x="3.1" y="5" width="1.8" height="61" fill="#FFE836" opacity="0.6"/><path d="M0.6 2.0 Q3.5 0 6.4 2.0 L6.4 3.4 Q3.5 4.8 0.6 3.4 Z" fill="#E2D050" stroke="#4A3C00" stroke-width="0.6"/></g>
<g transform="translate(384.3,486.4)" style="filter:saturate(0.84) brightness(0.946)"><path d="M0.5 1.8 L0.5 68 Q0.5 69.5 3.5 69.5 Q6.5 69.5 6.5 68 L6.5 1.8 Q3.5 -0.3 0.5 1.8 Z" fill="#F9DC14" stroke="#5A4A08" stroke-width="0.75"/><rect x="3.1" y="5" width="1.8" height="61" fill="#FFE836" opacity="0.6"/><path d="M0.6 2.0 Q3.5 0 6.4 2.0 L6.4 3.4 Q3.5 4.8 0.6 3.4 Z" fill="#E2D050" stroke="#4A3C00" stroke-width="0.6"/></g>
<g transform="translate(401.2,486.4)" style="filter:saturate(0.84) brightness(0.946)"><path d="M0.5 1.8 L0.5 68 Q0.5 69.5 3.5 69.5 Q6.5 69.5 6.5 68 L6.5 1.8 Q3.5 -0.3 0.5 1.8 Z" fill="#F9DC14" stroke="#5A4A08" stroke-width="0.75"/><rect x="3.1" y="5" width="1.8" height="61" fill="#FFE836" opacity="0.6"/><path d="M0.6 2.0 Q3.5 0 6.4 2.0 L6.4 3.4 Q3.5 4.8 0.6 3.4 Z" fill="#E2D050" stroke="#4A3C00" stroke-width="0.6"/></g>
<g transform="translate(417.8,486.4)" style="filter:saturate(0.84) brightness(0.946)"><path d="M0.5 1.8 L0.5 68 Q0.5 69.5 3.5 69.5 Q6.5 69.5 6.5 68 L6.5 1.8 Q3.5 -0.3 0.5 1.8 Z" fill="#F9DC14" stroke="#5A4A08" stroke-width="0.75"/><rect x="3.1" y="5" width="1.8" height="61" fill="#FFE836" opacity="0.6"/><path d="M0.6 2.0 Q3.5 0 6.4 2.0 L6.4 3.4 Q3.5 4.8 0.6 3.4 Z" fill="#E2D050" stroke="#4A3C00" stroke-width="0.6"/></g>
<rect x="445.1" y="31.5" width="406.9" height="90.3" rx="8" fill="none" stroke="#F2BD33" stroke-width="2.6"/>
<rect x="445.1" y="180.2" width="406.9" height="90.0" rx="8" fill="none" stroke="#F2BD33" stroke-width="2.6"/>
<rect x="445.1" y="327.3" width="406.9" height="90.30000000000001" rx="8" fill="none" stroke="#EBC352" stroke-width="2.6"/>
<rect x="445.1" y="486.1" width="406.9" height="91.19999999999993" rx="8" fill="none" stroke="#F0BC36" stroke-width="2.6"/>
<text transform="translate(500.41,90.90) scale(1.0541,1)" style="font-family:'Liberation Sans',sans-serif;font-size:24.5px;font-weight:bold" fill="#231F20">42</text>
<text transform="translate(534.96,90.90) scale(1.0152,1)" style="font-family:'Liberation Sans',sans-serif;font-size:24.5px;font-weight:normal" fill="#231F20">gồm</text>
<text transform="translate(590.02,90.90) scale(1.0287,1)" style="font-family:'Liberation Sans',sans-serif;font-size:24.5px;font-weight:bold" fill="#231F20">4</text>
<text transform="translate(610.24,90.90) scale(1.0187,1)" style="font-family:'Liberation Sans',sans-serif;font-size:24.5px;font-weight:normal" fill="#231F20">chục</text>
<text transform="translate(670.12,90.90) scale(0.9189,1)" style="font-family:'Liberation Sans',sans-serif;font-size:24.5px;font-weight:normal" fill="#231F20">và</text>
<text transform="translate(702.81,90.90) scale(1.0513,1)" style="font-family:'Liberation Sans',sans-serif;font-size:24.5px;font-weight:bold" fill="#231F20">2</text>
<text transform="translate(723.52,90.90) scale(0.9485,1)" style="font-family:'Liberation Sans',sans-serif;font-size:24.5px;font-weight:normal" fill="#231F20">đơn</text>
<text transform="translate(772.12,90.90) scale(0.9874,1)" style="font-family:'Liberation Sans',sans-serif;font-size:24.5px;font-weight:normal" fill="#231F20">vị.</text>
<text transform="translate(456.98,238.60) scale(0.9825,1)" style="font-family:'Liberation Sans',sans-serif;font-size:24.5px;font-weight:normal" fill="#231F20">36</text>
<text transform="translate(490.95,238.60) scale(1.0241,1)" style="font-family:'Liberation Sans',sans-serif;font-size:24.5px;font-weight:normal" fill="#231F20">gồm</text>
<rect x="545.8" y="202.3" width="50.100000000000136" height="45.599999999999966" rx="9" fill="none" stroke="#F2BD33" stroke-width="2.6"/>
<text transform="translate(563.29,238.00) scale(0.9479,1)" style="font-family:'Liberation Serif',serif;font-size:35.5px;font-weight:normal" fill="#EE0482" stroke="#EE0482" stroke-width="0.3">3</text>
<text transform="translate(601.06,238.60) scale(0.9977,1)" style="font-family:'Liberation Sans',sans-serif;font-size:24.5px;font-weight:normal" fill="#231F20">chục và</text>
<rect x="692.8" y="202.3" width="49.600000000000136" height="45.599999999999966" rx="9" fill="none" stroke="#F2BD33" stroke-width="2.6"/>
<text transform="translate(707.85,238.00) scale(1.0153,1)" style="font-family:'Liberation Serif',serif;font-size:35.5px;font-weight:normal" fill="#EE0482" stroke="#EE0482" stroke-width="0.3">6</text>
<text transform="translate(748.30,238.60) scale(0.9740,1)" style="font-family:'Liberation Sans',sans-serif;font-size:24.5px;font-weight:normal" fill="#231F20">đơn vị.</text>
<rect x="453.25" y="349.15" width="46.900000000000034" height="47.80000000000001" rx="9" fill="none" stroke="#DCB24C" stroke-width="2.9"/>
<text transform="translate(458.59,383.10) scale(1.0464,1)" style="font-family:'Liberation Serif',serif;font-size:31.4px;font-weight:normal" fill="#EE0482" stroke="#EE0482" stroke-width="0.3">59</text>
<text transform="translate(505.45,386.20) scale(1.0174,1)" style="font-family:'Liberation Sans',sans-serif;font-size:24.5px;font-weight:normal" fill="#3A3838">gồm</text>
<rect x="559.6500000000001" y="349.84999999999997" width="49.19999999999982" height="45.700000000000045" rx="9" fill="none" stroke="#DDB44A" stroke-width="2.9"/>
<text transform="translate(570.05,383.10) scale(1.0673,1)" style="font-family:'Liberation Serif',serif;font-size:31.4px;font-weight:normal" fill="#EE0482" stroke="#EE0482" stroke-width="0.3">5</text>
<text transform="translate(614.87,386.20) scale(0.9905,1)" style="font-family:'Liberation Sans',sans-serif;font-size:24.5px;font-weight:normal" fill="#231F20">chục và</text>
<rect x="705.8" y="349.5" width="48.90000000000009" height="46.19999999999999" rx="9" fill="none" stroke="#F2BD33" stroke-width="2.6"/>
<text transform="translate(723.37,383.20) scale(1.0224,1)" style="font-family:'Liberation Serif',serif;font-size:31.4px;font-weight:normal" fill="#EE0482" stroke="#EE0482" stroke-width="0.3">9</text>
<text transform="translate(762.20,386.20) scale(0.9740,1)" style="font-family:'Liberation Sans',sans-serif;font-size:24.5px;font-weight:normal" fill="#231F20">đơn vị.</text>
<rect x="453.59999999999997" y="508.4" width="45.80000000000007" height="46.200000000000045" rx="9" fill="none" stroke="#DDB44E" stroke-width="2.8"/>
<text transform="translate(458.94,540.90) scale(1.0238,1)" style="font-family:'Liberation Serif',serif;font-size:35.5px;font-weight:normal" fill="#EE0482" stroke="#EE0482" stroke-width="0.3">66</text>
<text transform="translate(505.45,545.10) scale(1.0219,1)" style="font-family:'Liberation Sans',sans-serif;font-size:24.5px;font-weight:normal" fill="#3A3838">gồm</text>
<rect x="561.0" y="508.7" width="47.0" height="46.00000000000006" rx="9" fill="none" stroke="#E3B84A" stroke-width="2.6"/>
<text transform="translate(575.81,540.90) scale(0.9758,1)" style="font-family:'Liberation Serif',serif;font-size:35.5px;font-weight:normal" fill="#EE0482" stroke="#EE0482" stroke-width="0.3">6</text>
<text transform="translate(614.87,545.10) scale(0.9905,1)" style="font-family:'Liberation Sans',sans-serif;font-size:24.5px;font-weight:normal" fill="#231F20">chục và</text>
<rect x="708.3" y="508.7" width="46.40000000000009" height="45.60000000000008" rx="9" fill="none" stroke="#F2BD33" stroke-width="2.6"/>
<text transform="translate(720.07,540.50) scale(1.0022,1)" style="font-family:'Liberation Serif',serif;font-size:35.5px;font-weight:normal" fill="#EE0482" stroke="#EE0482" stroke-width="0.3">6</text>
<text transform="translate(762.20,545.10) scale(0.9740,1)" style="font-family:'Liberation Sans',sans-serif;font-size:24.5px;font-weight:normal" fill="#231F20">đơn vị.</text>
<text transform="translate(62.8,103.1) rotate(-18.2)" style="font-family:'Liberation Sans',sans-serif;font-size:29px;font-weight:bold;mix-blend-mode:saturation;opacity:0.6" fill="#D8D8D8">loigiaihay.com</text>
<text transform="translate(68.8,579.3) rotate(-17)" style="font-family:'Liberation Sans',sans-serif;font-size:29.5px;font-weight:bold;mix-blend-mode:saturation;opacity:0.6" fill="#D8D8D8">loigiaihay.com</text>
</svg>
</body></html>
